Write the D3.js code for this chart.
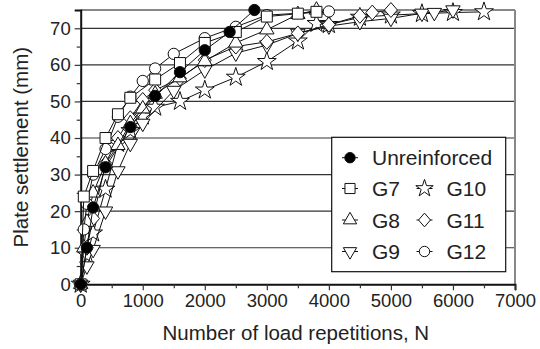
<!DOCTYPE html>
<html><head><meta charset="utf-8">
<script src="https://cdn.jsdelivr.net/npm/d3@7/dist/d3.min.js"></script>
<style>body{margin:0;background:#fff}svg{display:block}text{font-family:Arial,"Liberation Sans",sans-serif;fill:#222}</style>
</head><body><svg id="c" width="540" height="349"></svg>
<script>
const seriesNames = ["Unreinforced","G7","G8","G9","G10","G11","G12"];
const unreinforced = [[0,0],[100,10],[200,21],[400,32],[800,43],[1200,51.5],[1600,58],[2000,64],[2400,69],[2800,75]];
const g7 = [[0,0],[50,24],[200,31],[400,40],[600,46.5],[800,51],[1200,56],[1600,60.5],[2000,66],[2500,69],[3000,73.2],[3500,74],[3800,74.5]];
const g8 = [[0,0],[50,10],[100,17],[200,25],[400,33],[600,38],[800,44],[1000,48],[1200,52],[1600,56.5],[2000,61],[2500,66],[3000,69.6],[3500,73.8],[3800,75]];
const g9 = [[0,0],[100,5],[200,9.5],[400,20],[600,31],[800,38.5],[1000,44],[1500,53],[2000,58.6],[2500,63.2],[3000,65.4],[3500,68.6],[4000,70.6],[4500,71.8],[5000,72.7],[5500,74.1],[5700,74.3],[6000,75]];
const g10 = [[0,0],[100,8],[200,14],[400,26],[600,38.5],[800,42],[1000,46],[1200,48.4],[1600,50],[2000,53.1],[2500,56.6],[3000,60.9],[3500,66.5],[3800,71.3],[4000,71],[4500,73],[5000,73.6],[5500,74],[6000,74.3],[6500,74.5]];
const g11 = [[0,0],[100,10],[200,18],[400,33],[600,40],[800,45.4],[1000,50.4],[1200,53.1],[1600,56.3],[2000,61.3],[2500,65],[3000,66.3],[3500,68.6],[4000,71],[4500,73.4],[4700,74.3],[5000,75]];
const g12 = [[0,0],[50,15],[100,22],[200,30],[400,37],[600,45.8],[800,51.3],[1000,55.6],[1200,59],[1500,63],[2000,67.3],[2500,70.4],[3000,73.6],[4000,74.6]];
const xTicks = [0,1000,2000,3000,4000,5000,6000,7000];
const yTicks = [0,10,20,30,40,50,60,70];

const svg = d3.select("#c");
const x = d3.scaleLinear().domain([0,7000]).range([80.7,515]);
const y = d3.scaleLinear().domain([0,75]).range([284.3,10]);

svg.append("g").selectAll("line").data(yTicks.filter(d=>d>0)).join("line")
  .attr("x1",x(0)).attr("x2",x(7000)).attr("y1",d=>y(d)).attr("y2",d=>y(d))
  .attr("stroke","#333").attr("stroke-width",1.2);
svg.append("line").attr("x1",x(0)).attr("x2",x(7000)).attr("y1",y(75)).attr("y2",y(75)).attr("stroke","#888").attr("stroke-width",2);
svg.append("line").attr("x1",x(7000)).attr("x2",x(7000)).attr("y1",y(75)).attr("y2",y(0)).attr("stroke","#888").attr("stroke-width",2);

const xAxis = d3.axisBottom(x).tickValues(xTicks).tickSize(6).tickPadding(4).tickFormat(d3.format("d"));
const gx = svg.append("g").attr("transform",`translate(0,${y(0)})`).call(xAxis);
gx.selectAll(".tick text").attr("font-size",18.5).attr("fill","#222");
const xMinor = d3.axisBottom(x).tickValues(d3.range(500,7000,1000)).tickSize(4).tickFormat("");
svg.append("g").attr("transform",`translate(0,${y(0)})`).call(xMinor).select(".domain").remove();
const yAxis = d3.axisLeft(y).tickValues(yTicks).tickSize(6).tickPadding(4);
const gy = svg.append("g").attr("transform",`translate(${x(0)},0)`).call(yAxis);
gy.selectAll(".tick text").attr("font-size",18.5).attr("fill","#222");
const yMinor = d3.axisLeft(y).tickValues(d3.range(5,75,10)).tickSize(4).tickFormat("");
svg.append("g").attr("transform",`translate(${x(0)},0)`).call(yMinor).select(".domain").remove();
svg.selectAll(".domain").attr("stroke","#111").attr("stroke-width",2);
svg.selectAll(".tick line").attr("stroke","#333").attr("stroke-width",1.2);
svg.selectAll("text").attr("font-family",'Arial,"Liberation Sans",sans-serif');

svg.append("text").attr("x",(x(0)+x(7000))/2 - 2).attr("y",340).attr("text-anchor","middle").attr("font-size",20.5).text("Number of load repetitions, N");
svg.append("text").attr("transform",`translate(28,${(y(0)+y(75))/2}) rotate(-90)`).attr("text-anchor","middle").attr("font-size",20.5).text("Plate settlement (mm)");

const diamond = {draw(ctx,size){const r=Math.sqrt(size)/1.5;ctx.moveTo(0,-r*1.15);ctx.lineTo(r,0);ctx.lineTo(0,r*1.15);ctx.lineTo(-r,0);ctx.closePath();}};
const triDown = {draw(ctx,size){d3.symbolTriangle.draw({moveTo:(a,b)=>ctx.moveTo(a,-b),lineTo:(a,b)=>ctx.lineTo(a,-b),closePath:()=>ctx.closePath()},size);}};
const sym = {
  "Unreinforced":[d3.symbolCircle,100,"#000"],
  "G7":[d3.symbolSquare,120,"#fff"],
  "G8":[d3.symbolTriangle,90,"#fff"],
  "G9":[triDown,90,"#fff"],
  "G10":[d3.symbolStar,110,"#fff"],
  "G11":[diamond,95,"#fff"],
  "G12":[d3.symbolCircle,100,"#fff"]
};
const data = {"Unreinforced":unreinforced,"G7":g7,"G8":g8,"G9":g9,"G10":g10,"G11":g11,"G12":g12};
const line = d3.line().x(d=>x(d[0])).y(d=>y(d[1]));
const order = ["G10","G9","G11","G8","G12","G7","Unreinforced"];
order.forEach(name=>{
  const g = svg.append("g");
  g.append("path").attr("d",line(data[name])).attr("fill","none").attr("stroke","#111").attr("stroke-width",1);
  const [s,sz,fill] = sym[name];
  g.selectAll("path.m").data(data[name]).join("path").attr("class","m")
    .attr("transform",d=>`translate(${x(d[0])},${y(d[1])})`)
    .attr("d",d3.symbol(s,sz)).attr("fill",fill).attr("stroke","#111").attr("stroke-width",1);
});

const lg = svg.append("g");
lg.append("rect").attr("x",331.7).attr("y",137.3).attr("width",174).attr("height",134.4).attr("fill","#fff").attr("stroke","#111").attr("stroke-width",1.2);
const legItems = [["Unreinforced",350,372,157.7],["G7",350,372,188.5],["G8",350,372,220],["G9",350,372,251.5],["G10",424.5,446.5,188.5],["G11",424.5,446.5,220],["G12",424.5,446.5,251.5]];
legItems.forEach(([name,sx,tx,cy])=>{
  lg.append("line").attr("x1",sx-8).attr("x2",sx+8).attr("y1",cy).attr("y2",cy).attr("stroke","#111").attr("stroke-width",1);
  const [s,sz,fill] = sym[name];
  lg.append("path").attr("transform",`translate(${sx},${cy})`).attr("d",d3.symbol(s,sz*0.85)).attr("fill",fill).attr("stroke","#111").attr("stroke-width",1);
  lg.append("text").attr("x",tx).attr("y",cy+7.5).attr("font-size",21).text(name);
});
</script></body></html>
